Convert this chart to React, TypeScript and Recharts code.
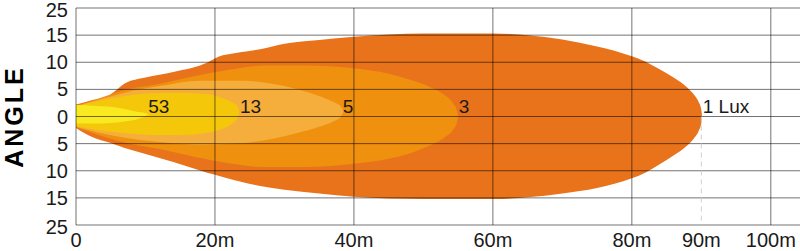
import React from "react";
import {
  ComposedChart,
  Area,
  XAxis,
  YAxis,
  ReferenceLine,
  Scatter,
  Label,
} from "recharts";

// distances (m) and upper / lower edge (degrees) of each isolux contour
const lux1X = [0, 2, 5, 7, 10, 14, 19, 20.5, 23, 26.5, 30, 35, 40, 50, 60, 65, 70, 75, 80, 82, 84, 86, 88, 89, 89.6, 90.0, 90.1];
const lux1Up = [2.2, 2.9, 4.1, 6.1, 7.2, 8.2, 10.0, 11.0, 11.7, 12.4, 13.4, 14.1, 14.7, 15.3, 15.3, 15.0, 14.2, 12.9, 11.1, 10.1, 8.7, 7.2, 5.3, 3.9, 2.7, 1.2, 0];
const lux1Low = [-2.1, -3.6, -4.9, -5.8, -6.9, -8.4, -10.4, -10.9, -11.8, -12.8, -13.5, -14.2, -14.8, -15.2, -15.2, -14.9, -14.2, -13.2, -11.4, -10.3, -8.8, -7.2, -5.3, -3.9, -2.7, -1.2, 0];

const lux3X = [0, 3, 7, 12, 17, 22, 27, 33, 40, 45, 48, 51, 53, 54.3, 54.8, 55];
const lux3Up = [2.0, 3.2, 4.9, 6.0, 7.4, 8.6, 9.4, 9.4, 8.9, 7.9, 6.8, 5.4, 4.0, 2.4, 1.2, 0];
const lux3Low = [-2.0, -3.3, -4.8, -6.0, -7.4, -8.6, -9.3, -9.3, -8.7, -7.8, -6.8, -5.3, -3.9, -2.4, -1.2, 0];

const lux5X = [0, 3, 7, 12, 18, 24, 28, 32, 35, 37, 38.2, 38.5];
const lux5Up = [1.9, 3.0, 4.4, 5.6, 6.6, 6.6, 6.1, 5.0, 3.8, 2.7, 1.7, 0.9];
const lux5Low = [-1.9, -2.9, -3.9, -4.7, -5.2, -4.9, -4.2, -3.0, -1.9, -0.9, 0.1, 0.9];

const lux13X = [0, 3, 7, 11, 15, 19, 21, 22.5, 23.3, 23.5];
const lux13Up = [1.8, 2.8, 3.8, 4.3, 4.4, 4.1, 3.4, 2.6, 1.8, 1.0];
const lux13Low = [-1.8, -2.5, -3.1, -3.4, -3.4, -3.0, -2.3, -1.3, -0.2, 1.0];

const lux53X = [0, 2.5, 5, 7, 8.6, 10, 10.5];
const lux53Up = [2.1, 2.0, 1.8, 1.4, 0.9, 0.6, 0.4];
const lux53Low = [-1.3, -1.3, -1.2, -0.9, -0.6, 0.1, 0.4];

// contour labels
const labelText = ["53", "13", "5", "3", "1 Lux"];
const labelX = [10.4, 23.6, 38.4, 55.1, 90.2];
const labelY = [1.9, 1.9, 1.9, 1.9, 1.9];

// axes
const xTicks = [0, 20, 40, 60, 80, 90, 100];
const xGrid = [0, 20, 40, 60, 80, 100];
const yTicks = [-20, -15, -10, -5, 0, 5, 10, 15, 20];
const yTickLabels = ["25", "15", "10", "5", "0", "5", "10", "15", "25"];

const toRange = (xs: number[], up: number[], low: number[]) =>
  xs.map((x, i) => ({ x, range: [low[i], up[i]] }));

const contours = [
  { data: toRange(lux1X, lux1Up, lux1Low), color: "#E8731B" },
  { data: toRange(lux3X, lux3Up, lux3Low), color: "#EF900F" },
  { data: toRange(lux5X, lux5Up, lux5Low), color: "#F5AE3B" },
  { data: toRange(lux13X, lux13Up, lux13Low), color: "#F4C70B" },
  { data: toRange(lux53X, lux53Up, lux53Low), color: "#F8E920" },
];

const labelData = labelText.map((t, i) => ({ x: labelX[i], y: labelY[i], t }));

const font = "'Liberation Sans', Arial, Helvetica, sans-serif";
const gridStroke = "rgba(0,0,0,0.55)";

const LuxLabel = (props: any) => (
  <text
    x={props.cx}
    y={props.cy}
    dy="0.36em"
    textAnchor="start"
    fontSize={19}
    fontFamily={font}
    fill="#1a1a1a"
  >
    {props.payload.t}
  </text>
);

// y tick: the two outer labels sit a little inside the plot edges
const YTick = (props: any) => {
  const { x, y, payload } = props;
  const v = payload.value;
  const shift = v === 20 || v === -20 ? 2 : 0;
  return (
    <text
      x={x}
      y={y + shift}
      dy="0.355em"
      textAnchor="end"
      fontSize={20}
      fontFamily={font}
      fill="#1a1a1a"
    >
      {yTickLabels[yTicks.indexOf(v)] ?? ""}
    </text>
  );
};

const AngleLabel = (props: any) => {
  const vb = props.viewBox;
  const cx = vb.x + 14;
  const cy = vb.y + vb.height / 2;
  return (
    <text
      x={cx}
      y={cy}
      transform={`rotate(-90 ${cx} ${cy})`}
      textAnchor="middle"
      dominantBaseline="central"
      fontSize={25}
      fontWeight={700}
      fontFamily={font}
      letterSpacing={3}
      fill="#000"
    >
      ANGLE
    </text>
  );
};

export default function App() {
  return (
    <div style={{ width: 800, height: 251 }}>
      <style>{"body{margin:0}"}</style>
      <ComposedChart
        width={800}
        height={251}
        margin={{ top: 8, right: 0, bottom: 0, left: 0 }}
      >
        <XAxis
          dataKey="x"
          type="number"
          domain={[0, 104.2]}
          ticks={xTicks}
          interval={0}
          allowDataOverflow
          tickFormatter={(v) => (v === 0 ? "0" : `${v}m`)}
          tick={{ fontSize: 20, fill: "#1a1a1a", fontFamily: font }}
          axisLine={false}
          tickLine={false}
          height={26}
        />
        <YAxis
          type="number"
          domain={[-20, 20]}
          ticks={yTicks}
          interval={0}
          allowDataOverflow
          tick={<YTick />}
          axisLine={false}
          tickLine={false}
          width={76}
        >
          <Label content={<AngleLabel />} />
        </YAxis>
        {contours.map((c, i) => (
          <Area
            key={i}
            data={c.data}
            dataKey="range"
            type="monotoneX"
            stroke="none"
            fill={c.color}
            fillOpacity={1}
            isAnimationActive={false}
          />
        ))}
        {yTicks.map((y) => (
          <ReferenceLine key={`h${y}`} y={y} stroke={gridStroke} strokeWidth={1} />
        ))}
        {xGrid.map((x) => (
          <ReferenceLine key={`v${x}`} x={x} stroke={gridStroke} strokeWidth={1} />
        ))}
        <ReferenceLine
          segment={[
            { x: 90, y: 0 },
            { x: 90, y: -20 },
          ]}
          stroke="#cfcfcf"
          strokeDasharray="5 4"
        />
        <Scatter
          data={labelData}
          dataKey="y"
          shape={LuxLabel}
          isAnimationActive={false}
        />
      </ComposedChart>
    </div>
  );
}
